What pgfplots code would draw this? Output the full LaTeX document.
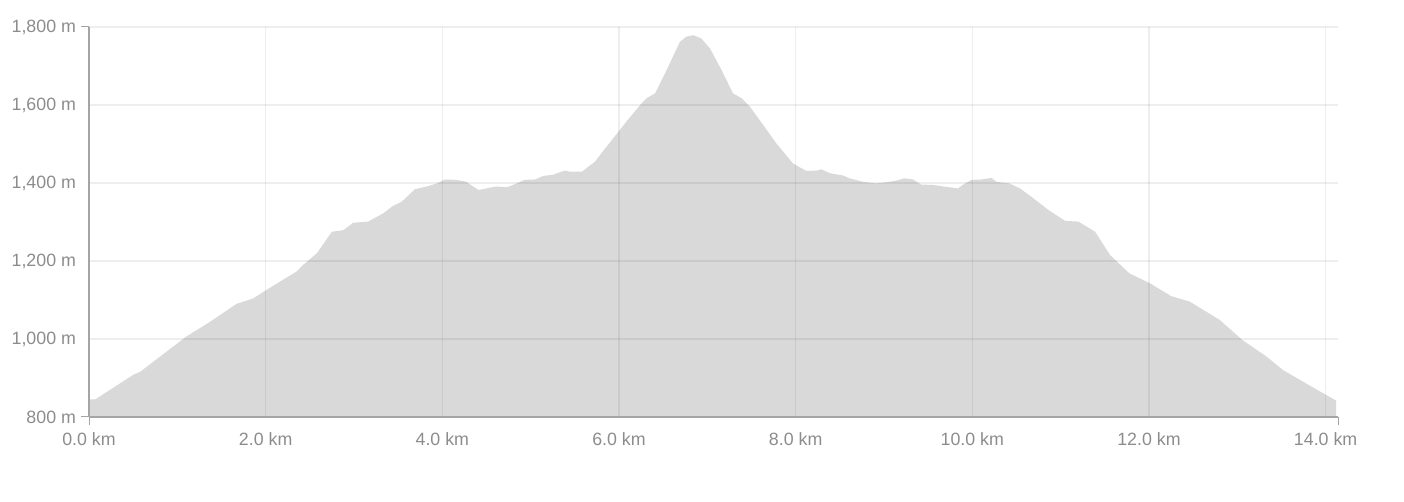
\documentclass[border=0pt]{standalone}
\usepackage{pgfplots}
\pgfplotsset{compat=1.18}
\usepackage{fontspec}
\setmainfont{Liberation Sans}
\definecolor{fillgray}{RGB}{217,217,217}
\definecolor{labelgray}{RGB}{140,140,140}
\definecolor{axisgray}{RGB}{165,165,165}

\pgfplotstableread{
km   elev
0.00 845
0.07 845
0.50 908
0.58 916
1.10 1006
1.37 1044
1.67 1090
1.86 1104
2.01 1126
2.35 1173
2.41 1187
2.58 1220
2.75 1275
2.88 1279
2.99 1298
3.16 1301
3.33 1322
3.44 1341
3.54 1352
3.69 1384
3.84 1392
3.94 1399
4.03 1409
4.16 1408
4.27 1403
4.41 1382
4.61 1391
4.73 1389
4.80 1395
4.93 1408
5.05 1409
5.14 1418
5.25 1421
5.39 1432
5.44 1429
5.58 1429
5.73 1455
5.80 1476
6.01 1536
6.10 1562
6.24 1600
6.31 1617
6.41 1630
6.54 1690
6.69 1762
6.76 1775
6.84 1779
6.93 1771
7.03 1745
7.16 1690
7.29 1630
7.39 1617
7.48 1596
7.59 1562
7.78 1502
7.97 1450
8.12 1431
8.24 1432
8.29 1435
8.39 1425
8.54 1419
8.61 1412
8.76 1403
8.91 1399
9.03 1402
9.14 1406
9.23 1412
9.33 1409
9.42 1396
9.56 1395
9.67 1391
9.84 1386
9.89 1395
9.99 1408
10.10 1409
10.22 1413
10.27 1403
10.42 1399
10.54 1386
10.69 1361
10.86 1331
11.05 1303
11.20 1301
11.39 1275
11.56 1215
11.78 1168
12.01 1143
12.25 1110
12.46 1096
12.80 1049
13.06 997
13.33 955
13.52 920
13.71 895
13.97 861
14.12 842
}\profile

\begin{document}
\begin{tikzpicture}
\begin{axis}[
    scale only axis,
    width=624.5pt, height=195pt,
    xmin=0, xmax=14.14,
    ymin=800, ymax=1800,
    axis on top,
    axis lines=left,
    axis line style={-, draw=none},
    xtick={0,2,...,14},
    xticklabels={0.0 km,2.0 km,4.0 km,6.0 km,8.0 km,10.0 km,12.0 km,14.0 km},
    ytick={800,1000,...,1800},
    yticklabels={800 m,{1,000 m},{1,200 m},{1,400 m},{1,600 m},{1,800 m}},
    major tick length=0pt,
    tick label style={font=\fontsize{8.9}{10}\selectfont, text=labelgray},
    xticklabel style={yshift=-4.5pt},
    yticklabel style={xshift=-3pt},
    grid=major,
    major grid style={black, opacity=0.065, line width=0.6pt},
    clip=false,
]
\addplot[fill=fillgray, draw=none] table[x=km, y=elev] {\profile} \closedcycle;
\coordinate (O) at (rel axis cs:0,0);
\coordinate (T) at (rel axis cs:0,1);
\coordinate (R) at (rel axis cs:1,0);
\end{axis}
\draw[axisgray, line width=0.6pt] (O) -- (T);
\draw[axisgray, line width=1.1pt] (O) -- (R);
\draw[axisgray, line width=0.5pt] (T) -- ++(-4pt,0);
\draw[axisgray, line width=0.5pt] (O) -- ++(-4pt,0);
\draw[axisgray, line width=0.5pt] (O) -- ++(0,-4pt);
\draw[axisgray, line width=0.5pt] (R) -- ++(0,-4pt);
\pgfresetboundingbox
\path[use as bounding box] (O) ++(-44.5pt,-42.5pt) rectangle ++(702pt,251pt);
\end{tikzpicture}
\end{document}
